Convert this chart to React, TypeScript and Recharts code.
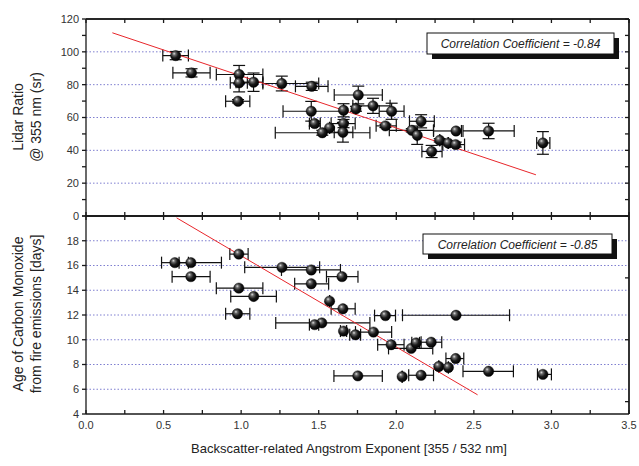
import React from 'react';
import { ScatterChart, Scatter, XAxis, YAxis, ErrorBar, ReferenceLine } from 'recharts';

// ---------- Top panel: Lidar ratio ----------
const topX = [0.578, 0.68, 0.987, 0.987, 1.08, 0.98, 1.262, 1.455, 1.755, 1.452, 1.66, 1.74, 1.85, 1.97, 1.474, 1.66, 1.57, 1.523, 1.656, 1.93, 2.16, 2.1, 2.135, 2.385, 2.595, 2.28, 2.335, 2.383, 2.228, 2.945];
const topY = [97.7, 87.2, 86.2, 81.1, 81.5, 69.9, 80.7, 79.0, 73.7, 63.8, 64.4, 65.3, 67.1, 63.8, 56.3, 56.3, 53.7, 50.7, 51.0, 54.9, 57.7, 52.2, 49.2, 51.8, 51.8, 46.1, 44.4, 43.5, 39.3, 44.5];
const topXLo = [0.495, 0.56, 0.84, 0.93, 0.967, 0.9, 1.14, 1.35, 1.6, 1.27, 1.66, 1.74, 1.72, 1.89, 1.44, 1.58, 1.57, 1.22, 1.6, 1.87, 2.085, 1.955, 2.135, 2.24, 2.43, 2.28, 2.335, 2.3, 2.165, 2.905];
const topXHi = [0.66, 0.8, 1.14, 1.04, 1.14, 1.056, 1.5, 1.56, 1.91, 1.66, 1.66, 1.74, 1.96, 2.05, 1.51, 1.735, 1.57, 1.83, 1.72, 2.0, 2.245, 2.24, 2.135, 2.42, 2.76, 2.28, 2.335, 2.44, 2.295, 2.99];
const topYErr = [2.5, 2.5, 5.5, 5.5, 5.6, 1, 4.5, 2.5, 5.4, 6, 4, 1.5, 4.6, 4.9, 1.5, 2.5, 0, 1.5, 6, 1, 4, 1, 5.6, 0, 4.7, 1, 1, 1.5, 3.7, 6.9];
const topFitX = [0.17, 2.9];
const topFitY = [111.6, 25.1];
const topYDomain = [0, 120];
const topYTicks = [0, 10, 20, 30, 40, 50, 60, 70, 80, 90, 100, 110, 120];
const topGrid = [20, 40, 60, 80, 100];
const topRightTicks = [0, 10, 20, 30, 40, 50, 60, 70, 80, 90, 100, 110, 120];
const topCorr = 'Correlation Coefficient = -0.84';

// ---------- Bottom panel: CO age ----------
const botX = [0.985, 0.573, 0.676, 1.263, 1.452, 1.65, 0.676, 1.452, 0.985, 1.081, 1.57, 1.656, 0.976, 1.52, 1.474, 1.93, 2.385, 1.66, 1.737, 1.853, 1.967, 2.096, 2.128, 2.225, 2.383, 2.274, 2.336, 1.752, 2.038, 2.16, 2.595, 2.945];
const botY = [16.92, 16.23, 16.23, 15.85, 15.64, 15.1, 15.1, 14.52, 14.17, 13.5, 13.12, 12.5, 12.1, 11.36, 11.22, 11.95, 11.98, 10.7, 10.4, 10.62, 9.6, 9.3, 9.75, 9.8, 8.48, 7.84, 7.76, 7.08, 7.02, 7.13, 7.45, 7.2];
const botXLo = [0.927, 0.487, 0.6, 1.023, 1.26, 1.55, 0.555, 1.345, 0.84, 0.933, 1.57, 1.58, 0.9, 1.223, 1.44, 1.86, 2.04, 1.64, 1.7, 1.737, 1.88, 1.95, 2.1, 2.16, 2.32, 2.274, 2.336, 1.598, 2.038, 2.08, 2.43, 2.91];
const botXHi = [1.045, 0.66, 0.873, 1.506, 1.64, 1.753, 0.8, 1.564, 1.14, 1.227, 1.57, 1.735, 1.056, 1.83, 1.5, 1.995, 2.73, 1.68, 1.77, 1.97, 2.05, 2.235, 2.15, 2.293, 2.435, 2.274, 2.336, 1.91, 2.038, 2.24, 2.755, 3.0];
const botFitX = [0.584, 2.524];
const botFitY = [19.85, 5.55];
const botYDomain = [4, 20];
const botYTicks = [4, 6, 8, 10, 12, 14, 16, 18, 20];
const botGrid = [6, 8, 10, 12, 14, 16, 18];
const botRightTicks = [5, 10, 15, 20];
const botCorr = 'Correlation Coefficient = -0.85';

// ---------- Shared x axis ----------
const xDomain = [0, 3.5];
const xTicks = [0, 0.25, 0.5, 0.75, 1, 1.25, 1.5, 1.75, 2, 2.25, 2.5, 2.75, 3, 3.25, 3.5];
const xTitle = 'Backscatter-related Angstrom Exponent [355 / 532 nm]';
const topTitle = ['Lidar Ratio', '@ 355 nm (sr)'];
const botTitle = ['Age of Carbon Monoxide', 'from fire emissions [days]'];

const topData = topX.map((x, i) => ({
  x,
  y: topY[i],
  ex: [Math.max(0, x - topXLo[i]), Math.max(0, topXHi[i] - x)],
  ey: topYErr[i],
}));
const botData = botX.map((x, i) => ({
  x,
  y: botY[i],
  ex: [Math.max(0, x - botXLo[i]), Math.max(0, botXHi[i] - x)],
}));

const W = 639;
const H = 466;
const FONT = '"Liberation Sans", Arial, sans-serif';
const AXIS = '#1a1a1a';
const GRID = '#7f7fd0';
const FIT = '#e8262b';

const Sphere = (props: any) => {
  const { cx, cy } = props;
  if (cx == null || cy == null) return <g />;
  return <circle cx={cx} cy={cy} r={5.2} fill="url(#sphereGrad)" stroke="#000" strokeWidth={0.4} />;
};
const Nothing = () => <g />;
const blank = () => '';

const tickStyle = { fill: '#333', fontSize: 11, fontFamily: FONT };

const xFmt = (v: number) => (Math.abs(v * 2 - Math.round(v * 2)) < 1e-6 ? v.toFixed(1) : '');

export default function App() {
  const abs: React.CSSProperties = { position: 'absolute', left: 0, top: 0 };
  return (
    <div style={{ position: 'absolute', left: 0, top: 0, width: W, height: H, background: '#fff', fontFamily: FONT }}>
      <svg width={0} height={0} style={{ position: 'absolute' }}>
        <defs>
          <radialGradient id="sphereGrad" cx="0.4" cy="0.4" r="0.6" fx="0.35" fy="0.3">
            <stop offset="0%" stopColor="#e0e0e0" />
            <stop offset="25%" stopColor="#6a6a6a" />
            <stop offset="60%" stopColor="#1a1a1a" />
            <stop offset="100%" stopColor="#000" />
          </radialGradient>
        </defs>
      </svg>

      {/* Top panel */}
      <div style={abs}>
        <ScatterChart width={W} height={H} margin={{ top: 19, right: 10, bottom: 240, left: 0 }}>
          <XAxis xAxisId="b" type="number" dataKey="x" domain={xDomain} ticks={xTicks} orientation="bottom"
            height={10} tickSize={-4} tickFormatter={blank} interval={0} stroke={AXIS} strokeWidth={1.3} />
          <YAxis yAxisId="l" type="number" dataKey="y" domain={topYDomain} ticks={topYTicks} width={86}
            tickSize={4} tickMargin={3} interval={0} stroke={AXIS} strokeWidth={1.3} tick={tickStyle}
            tickFormatter={(v: number) => (v % 20 === 0 ? String(v) : '')} />
          <XAxis xAxisId="t" type="number" dataKey="x" domain={xDomain} ticks={xTicks} orientation="top" mirror
            height={10} tickSize={4} tickFormatter={blank} interval={0} stroke={AXIS} strokeWidth={1.3} />
          <YAxis yAxisId="r" type="number" dataKey="y" orientation="right" domain={topYDomain} ticks={topRightTicks} mirror
            width={10} tickSize={4} tickFormatter={blank} interval={0} stroke={AXIS} strokeWidth={1.3} />
          {topGrid.map((g) => (
            <ReferenceLine key={g} xAxisId="b" yAxisId="l" y={g} stroke={GRID} strokeDasharray="1.5 2" strokeWidth={1} />
          ))}
          <ReferenceLine xAxisId="b" yAxisId="l" y={topYDomain[1]} stroke={AXIS} strokeWidth={1.3} />
          <ReferenceLine xAxisId="b" yAxisId="l" x={xDomain[1]} stroke={AXIS} strokeWidth={1.3} />
          <Scatter data={topData} xAxisId="b" yAxisId="l" shape={Sphere} isAnimationActive={false}>
            <ErrorBar dataKey="ex" direction="x" width={6} stroke="#111" strokeWidth={1.2} isAnimationActive={false} />
            <ErrorBar dataKey="ey" direction="y" width={6} stroke="#111" strokeWidth={1.2} isAnimationActive={false} />
          </Scatter>
          <Scatter data={topData} xAxisId="t" yAxisId="r" shape={Nothing} isAnimationActive={false} legendType="none" />
          <ReferenceLine xAxisId="b" yAxisId="l" stroke={FIT} strokeWidth={1}
            segment={[{ x: topFitX[0], y: topFitY[0] }, { x: topFitX[1], y: topFitY[1] }]} />
        </ScatterChart>
      </div>

      {/* Bottom panel */}
      <div style={abs}>
        <ScatterChart width={W} height={H} margin={{ top: 216, right: 10, bottom: 22, left: 0 }}>
          <XAxis xAxisId="b" type="number" dataKey="x" domain={xDomain} ticks={xTicks} orientation="bottom"
            height={30} tickSize={-4} tickMargin={11} interval={0} stroke={AXIS} strokeWidth={1.3}
            tick={tickStyle} tickFormatter={xFmt} />
          <YAxis yAxisId="l" type="number" dataKey="y" domain={botYDomain} ticks={botYTicks} width={86}
            tickSize={4} tickMargin={3} interval={0} stroke={AXIS} strokeWidth={1.3} tick={tickStyle}
            tickFormatter={(v: number) => (v === 20 ? '' : String(v))} />
          <XAxis xAxisId="t" type="number" dataKey="x" domain={xDomain} ticks={xTicks} orientation="top" mirror
            height={10} tickSize={4} tickFormatter={blank} interval={0} stroke={AXIS} strokeWidth={1.3} />
          <YAxis yAxisId="r" type="number" dataKey="y" orientation="right" domain={botYDomain} ticks={botRightTicks} mirror
            width={10} tickSize={4} tickFormatter={blank} interval={0} stroke={AXIS} strokeWidth={1.3} />
          {botGrid.map((g) => (
            <ReferenceLine key={g} xAxisId="b" yAxisId="l" y={g} stroke={GRID} strokeDasharray="1.5 2" strokeWidth={1} />
          ))}
          <ReferenceLine xAxisId="b" yAxisId="l" y={botYDomain[1]} stroke={AXIS} strokeWidth={1.3} />
          <ReferenceLine xAxisId="b" yAxisId="l" x={xDomain[1]} stroke={AXIS} strokeWidth={1.3} />
          <Scatter data={botData} xAxisId="b" yAxisId="l" shape={Sphere} isAnimationActive={false}>
            <ErrorBar dataKey="ex" direction="x" width={6} stroke="#111" strokeWidth={1.2} isAnimationActive={false} />
          </Scatter>
          <Scatter data={botData} xAxisId="t" yAxisId="r" shape={Nothing} isAnimationActive={false} legendType="none" />
          <ReferenceLine xAxisId="b" yAxisId="l" stroke={FIT} strokeWidth={1}
            segment={[{ x: botFitX[0], y: botFitY[0] }, { x: botFitX[1], y: botFitY[1] }]} />
        </ScatterChart>
      </div>

      {/* Titles and correlation boxes */}
      <svg width={W} height={H} style={{ ...abs, pointerEvents: 'none' }}>
        <g fontFamily={FONT} fill="#222" fontSize={14}>
          <text transform="translate(23,117) rotate(-90)" textAnchor="middle">{topTitle[0]}</text>
          <text transform="translate(41,117) rotate(-90)" textAnchor="middle">{topTitle[1]}</text>
          <text transform="translate(23,314) rotate(-90)" textAnchor="middle">{botTitle[0]}</text>
          <text transform="translate(41,314) rotate(-90)" textAnchor="middle">{botTitle[1]}</text>
          <text x={349} y={453} textAnchor="middle" fontSize={13}>{xTitle}</text>
        </g>
        <g fontFamily={FONT}>
          <rect x={432} y={38} width={187} height={21} fill="#111" />
          <rect x={427} y={33} width={187} height={21} fill="#fff" stroke="#111" strokeWidth={1} />
          <text x={520.5} y={44} textAnchor="middle" dominantBaseline="central" fontSize={12} fontStyle="italic" fill="#222">{topCorr}</text>
          <rect x={428} y={239} width={189} height={20} fill="#111" />
          <rect x={423} y={234} width={189} height={20} fill="#fff" stroke="#111" strokeWidth={1} />
          <text x={517.5} y={244.5} textAnchor="middle" dominantBaseline="central" fontSize={12} fontStyle="italic" fill="#222">{botCorr}</text>
        </g>
      </svg>
    </div>
  );
}
